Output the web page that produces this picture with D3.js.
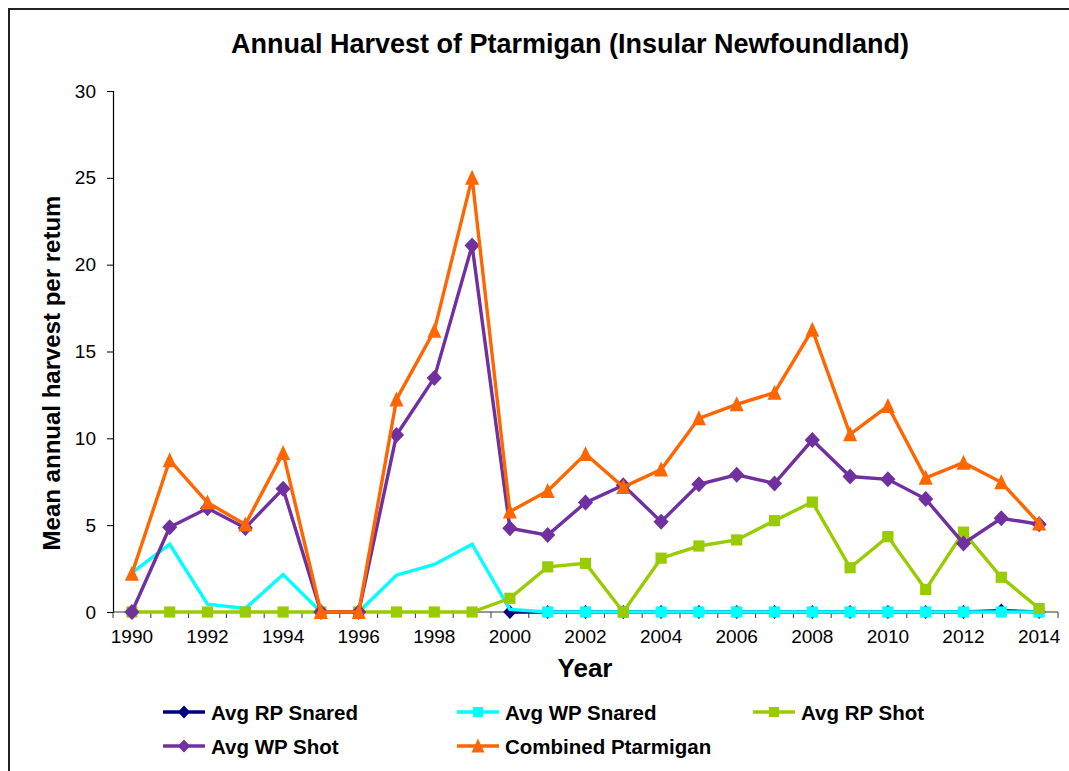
<!DOCTYPE html>
<html><head><meta charset="utf-8">
<script src="https://cdn.jsdelivr.net/npm/d3@7"></script>
<style>body{margin:0;background:#fff;} svg{display:block;font-family:"Liberation Sans",Arial,sans-serif;}</style>
</head><body>
<svg id="chart" width="1069" height="771"></svg>
<script>
const years = [1990,1991,1992,1993,1994,1995,1996,1997,1998,1999,2000,2001,2002,2003,2004,2005,2006,2007,2008,2009,2010,2011,2012,2013,2014];
const xTickLabels = [1990,1992,1994,1996,1998,2000,2002,2004,2006,2008,2010,2012,2014];
const yTicks = [0,5,10,15,20,25,30];
const seriesNames = ["Avg RP Snared","Avg WP Snared","Avg RP Shot","Avg WP Shot","Combined Ptarmigan"];
const rpSnared = [null,null,null,null,null,null,null,null,null,null,0,0,0,0,0,0,0,0,0,0,0,0,0,0.08,0];
const wpSnared = [2.25,3.9,0.45,0.2,2.16,0,0,2.12,2.74,3.9,0.15,0,0,0,0,0,0,0,0,0,0,0,0,0,0];
const wpSnaredMarkersFrom = 2001;
const rpShot = [0,0,0,0,0,0,0,0,0,0,0.79,2.6,2.8,0,3.1,3.8,4.15,5.26,6.33,2.55,4.34,1.3,4.6,2.0,0.2];
const wpShot = [0,4.88,5.97,4.84,7.1,0,0,10.19,13.48,21.1,4.82,4.43,6.3,7.3,5.2,7.35,7.9,7.4,9.9,7.8,7.64,6.5,3.95,5.4,5.05];
const combined = [2.2,8.74,6.3,5.04,9.16,0,0,12.24,16.2,25.0,5.78,6.97,9.1,7.2,8.2,11.15,11.96,12.63,16.25,10.23,11.86,7.73,8.6,7.47,5.1];

const title = "Annual Harvest of Ptarmigan (Insular Newfoundland)";
const xTitle = "Year";
const yTitle = "Mean annual harvest per retum";

const svg = d3.select("#chart");
svg.append("rect").attr("x",9).attr("y",9).attr("width",1100).attr("height",800)
  .attr("fill","none").attr("stroke","#222").attr("stroke-width",2);

const pLeft=113, pRight=1058, pTop=91, pBottom=612;
const x = d3.scaleBand().domain(years).range([pLeft,pRight]);
const y = d3.scaleLinear().domain([0,30]).range([pBottom,pTop]);
const cx = d => x(d) + x.bandwidth()/2;

const yAxis = svg.append("g").attr("transform",`translate(${pLeft},0)`)
  .call(d3.axisLeft(y).tickValues(yTicks).tickSize(6).tickPadding(11));
yAxis.selectAll("text").attr("font-size",19).attr("fill","#000").attr("font-family","Liberation Sans, Arial, sans-serif");
yAxis.select(".domain").attr("stroke","#000").attr("stroke-width",1.2);
yAxis.selectAll(".tick line").attr("stroke","#000");

const xg = svg.append("g").attr("transform",`translate(0,${pBottom})`);
xg.append("line").attr("x1",pLeft).attr("x2",pRight).attr("y1",0).attr("y2",0).attr("stroke","#333").attr("stroke-width",1.2);
const bounds = years.map(yv => x(yv)).concat([pRight]);
xg.selectAll(".xt").data(bounds).join("line").attr("class","xt")
  .attr("x1",d=>d).attr("x2",d=>d).attr("y1",0).attr("y2",6).attr("stroke","#333");
xg.selectAll(".xl").data(xTickLabels).join("text").attr("class","xl")
  .attr("x",d=>cx(d)).attr("y",31).attr("text-anchor","middle").attr("font-size",19).text(d=>d);

svg.append("text").attr("x",570).attr("y",53).attr("text-anchor","middle")
  .attr("font-size",27).attr("font-weight","bold").text(title);
svg.append("text").attr("x",585).attr("y",677).attr("text-anchor","middle")
  .attr("font-size",26).attr("font-weight","bold").text(xTitle);
svg.append("text").attr("transform","translate(60,373) rotate(-90)").attr("text-anchor","middle")
  .attr("font-size",24).attr("font-weight","bold").text(yTitle);

const colors = ["#000080","#00FFFF","#99CC00","#7030A0","#FF6600"];
const shapes = ["diamond","square","square","diamond","triangle"];
const data = [rpSnared,wpSnared,rpShot,wpShot,combined];

function marker(g, shape, color, size){
  if(shape==="diamond"){
    const s = size||8;
    g.append("path").attr("d",`M0,${-s}L${s*0.95},0L0,${s}L${-s*0.95},0Z`).attr("fill",color);
  } else if(shape==="square"){
    const s = size||5.6;
    g.append("rect").attr("x",-s).attr("y",-s).attr("width",2*s).attr("height",2*s).attr("fill",color);
  } else {
    const s = size||7;
    g.append("path").attr("d",`M0,${-s-1}L${s},${s}L${-s},${s}Z`).attr("fill",color);
  }
}

const line = d3.line().defined(d=>d.v!==null).x(d=>cx(d.yr)).y(d=>y(d.v));
data.forEach((arr,i)=>{
  const pts = arr.map((v,j)=>({yr:years[j],v}));
  svg.append("path").datum(pts).attr("d",line).attr("fill","none")
    .attr("stroke",colors[i]).attr("stroke-width",3.4).attr("stroke-linejoin","miter");
  const mk = pts.filter(p=>p.v!==null && (i!==1 || p.yr>=wpSnaredMarkersFrom));
  mk.forEach(p=>{
    const g = svg.append("g").attr("transform",`translate(${cx(p.yr)},${y(p.v)})`);
    marker(g, shapes[i], colors[i], i===0?7:null);
  });
});

const legPos = [[163,712],[457,712],[753,712],[163,746],[457,746]];
seriesNames.forEach((n,i)=>{
  const [lx,ly] = legPos[i];
  svg.append("line").attr("x1",lx).attr("x2",lx+42).attr("y1",ly).attr("y2",ly)
    .attr("stroke",colors[i]).attr("stroke-width",3.4);
  const g = svg.append("g").attr("transform",`translate(${lx+21},${ly})`);
  marker(g, shapes[i], colors[i], shapes[i]==="square"?5:6.5);
  svg.append("text").attr("x",lx+48).attr("y",ly+8).attr("font-size",20.5)
    .attr("font-weight","bold").text(n);
});
</script>
</body></html>
